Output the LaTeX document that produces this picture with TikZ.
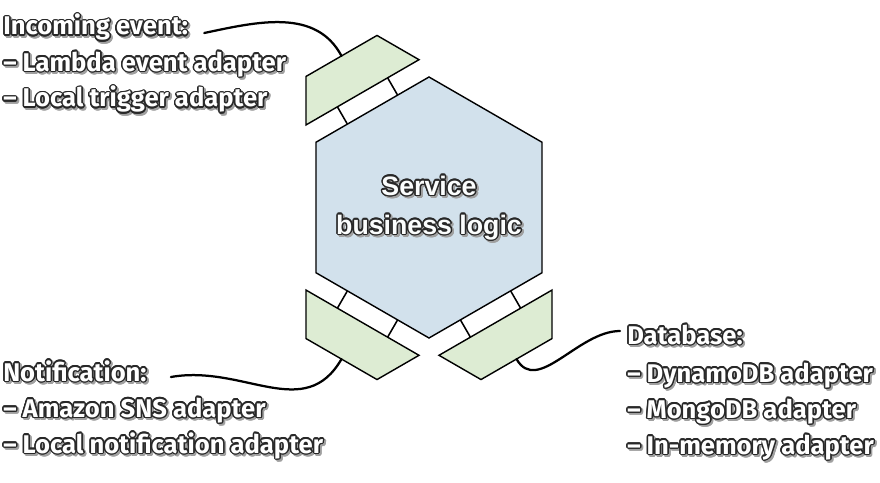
\documentclass[tikz,border=0pt]{standalone}
\usepackage{fontspec}
\setmainfont{Fira Sans}
\newfontfamily\hexfont{Liberation Sans}
\usepackage{contour}
\contourlength{1pt}
\usetikzlibrary{positioning, calc}
\definecolor{hexblue}{RGB}{210, 225, 236}
\definecolor{portgreen}{RGB}{221, 236, 211}
\definecolor{inkgray}{RGB}{40, 40, 40}
\definecolor{shadegray}{RGB}{160, 160, 160}
\newcommand{\outl}[1]{\makebox[0pt][l]{\hspace{1.3pt}\raisebox{-1.3pt}{\contour{shadegray}{\textcolor{shadegray}{#1}}}}\contour{inkgray}{#1}}

\begin{document}
\begin{tikzpicture}[
    x=0.025cm, y=0.025cm,
    hexcell/.style={draw=black, line width=1pt, fill=hexblue},
    adapter/.style={draw=black, line width=1pt, fill=portgreen},
    link/.style={black, line width=1.1pt},
    wire/.style={black, line width=1.6pt, line cap=round},
    header/.style={inner sep=0pt, text=white, font=\bfseries\fontsize{18.2}{25.6}\selectfont},
    items/.style={header, align=left},
    hextext/.style={inner sep=0pt, text=white!92!hexblue, align=center,
                    font=\hexfont\bfseries\fontsize{19}{27.7}\selectfont}
]
    \useasboundingbox (0,0) rectangle (880,482);
    \coordinate (hexc) at (429,274.5);

    % Service hexagon
    \draw[hexcell] ($(hexc)+(30:130.5)$)
        \foreach \a in {90,150,...,330} { -- ($(hexc)+(\a:130.5)$) } -- cycle;
    \node[hextext, anchor=base] (logic) at ($(hexc)+(0,-26.5)$)
        {\outl{Service}\\ \outl{business logic}};

    % Adapters on three sides
    \foreach \ang/\port in {120/inport, 240/notport, 300/dbport}{
        \begin{scope}[shift={(hexc)}, rotate=\ang]
            \draw[adapter] (133,-65.25) -- (133,65.25) -- (175,41) -- (175,-41) -- cycle;
            \draw[link] (113,29) -- (133,29);
            \draw[link] (113,-29) -- (133,-29);
            \coordinate (\port) at (175,0);
        \end{scope}
    }

    % Labels (base of a list = its last line)
    \node[header, anchor=base west] (inhd) at (3,447) {\outl{Incoming event:}};
    \node[items, anchor=base west] (inlist) at ($(inhd.base west)+(0,-72)$)
        {\outl{– Lambda event adapter}\\ \outl{– Local trigger adapter}};

    \node[header, anchor=base west] (nothd) at (3,101) {\outl{Notification:}};
    \node[items, anchor=base west] (notlist) at ($(nothd.base west)+(0,-72)$)
        {\outl{– Amazon SNS adapter}\\ \outl{– Local notification adapter}};

    \node[header, anchor=base west] (dbhd) at (627,138) {\outl{Database:}};
    \node[items, anchor=base west] (dblist) at ($(dbhd.base west)+(0,-110)$)
        {\outl{– DynamoDB adapter}\\ \outl{– MongoDB adapter}\\ \outl{– In-memory adapter}};

    % Wires to the adapters
    \draw[wire] ([shift={(16,2)}]inhd.base east) to[out=12, in=118] (inport);
    \draw[wire] ([shift={(24,4)}]nothd.base east) to[out=10, in=240, looseness=1.1] (notport);
    \draw[wire] (dbport) to[out=300, in=180] ([shift={(-7,13)}]dbhd.base west);
\end{tikzpicture}
\end{document}
